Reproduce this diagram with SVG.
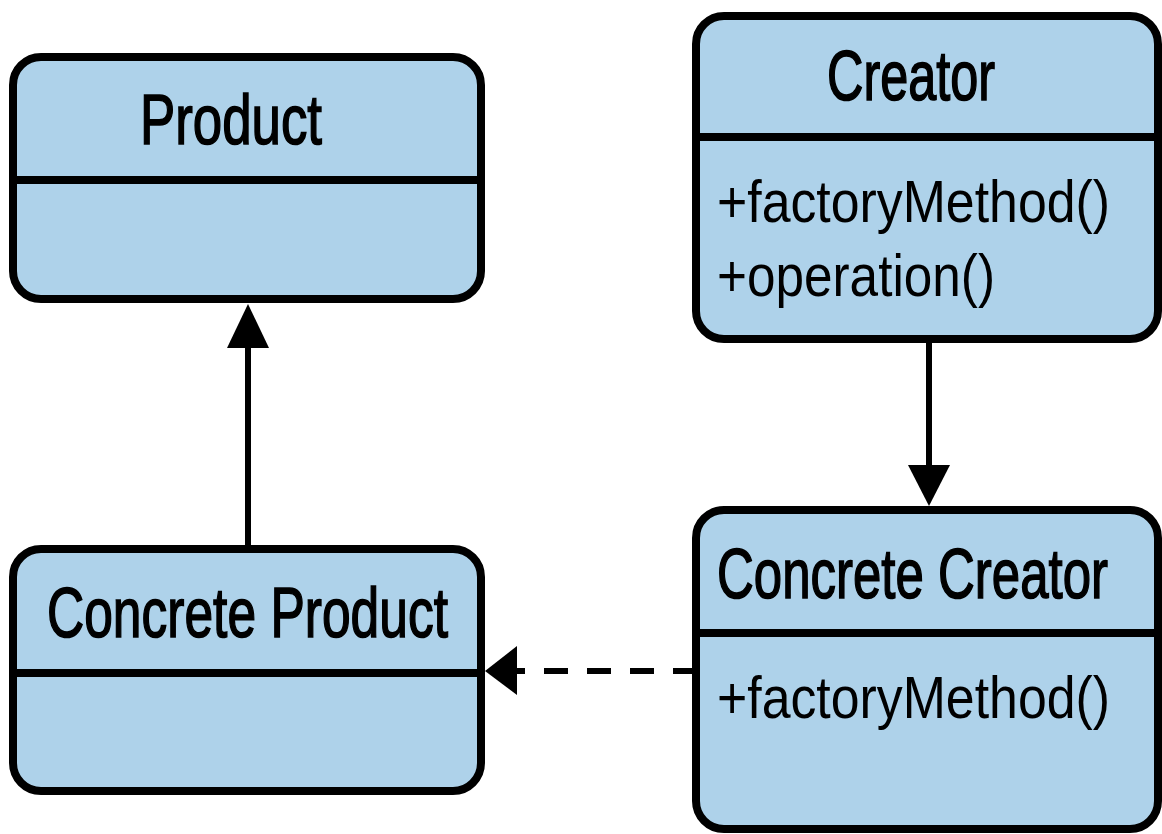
<svg xmlns="http://www.w3.org/2000/svg" width="1162" height="834" viewBox="0 0 1162 834">
<style>
.box{fill:#aed2ea;stroke:#000;stroke-width:8}
.div{stroke:#000;stroke-width:8}
.title{font-family:"Liberation Sans Narrow","Liberation Sans",Arial,sans-serif;font-size:71px;fill:#000;stroke:#000;stroke-width:1.6}
.op{font-family:"Liberation Sans Narrow","Liberation Sans",Arial,sans-serif;font-size:60px;fill:#000}
.conn{stroke:#000;stroke-width:6;fill:none}
.head{fill:#000}
</style>
<rect width="1162" height="834" fill="#fff"/>
<g id="product">
<rect class="box" x="13" y="57" width="468" height="242" rx="28"/>
<line class="div" x1="13" y1="180" x2="481" y2="180"/>
<text class="title" x="140" y="144" textLength="182" lengthAdjust="spacingAndGlyphs">Product</text>
</g>
<g id="creator">
<rect class="box" x="696" y="16" width="462" height="323" rx="28"/>
<line class="div" x1="696" y1="137" x2="1158" y2="137"/>
<text class="title" x="827" y="100" textLength="168" lengthAdjust="spacingAndGlyphs">Creator</text>
<text class="op" x="717" y="222" textLength="393" lengthAdjust="spacingAndGlyphs">+factoryMethod()</text>
<text class="op" x="717" y="296" textLength="278" lengthAdjust="spacingAndGlyphs">+operation()</text>
</g>
<g id="concrete-product">
<rect class="box" x="13" y="549" width="468" height="242" rx="28"/>
<line class="div" x1="13" y1="673" x2="481" y2="673"/>
<text class="title" x="47" y="637" textLength="401" lengthAdjust="spacingAndGlyphs">Concrete Product</text>
</g>
<g id="concrete-creator">
<rect class="box" x="696" y="510" width="462" height="319" rx="28"/>
<line class="div" x1="696" y1="633" x2="1158" y2="633"/>
<text class="title" x="717" y="598" textLength="391" lengthAdjust="spacingAndGlyphs">Concrete Creator</text>
<text class="op" x="717" y="718" textLength="393" lengthAdjust="spacingAndGlyphs">+factoryMethod()</text>
</g>
<g id="connectors">
<line class="conn" x1="248" y1="545" x2="248" y2="346"/>
<polygon class="head" points="248,304 227,348 269,348"/>
<line class="conn" x1="929" y1="343" x2="929" y2="467"/>
<polygon class="head" points="929,506 908,465 950,465"/>
<line class="conn" x1="517" y1="671" x2="692" y2="671" stroke-width="7" stroke-dasharray="24 19" stroke-dashoffset="16"/>
<polygon class="head" points="485,671 517,646 517,695"/>
</g>
</svg>
